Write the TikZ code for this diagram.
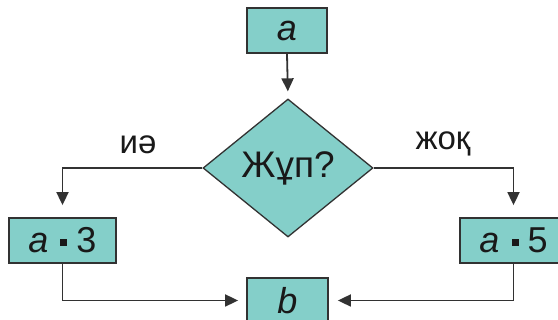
\documentclass[tikz,border=0pt]{standalone}
\usepackage{fontspec}
\setmainfont{Liberation Sans}
\usetikzlibrary{shapes.geometric,arrows.meta}
\definecolor{boxfill}{RGB}{132,207,201}
\definecolor{edge}{RGB}{50,50,50}
\definecolor{ink}{RGB}{25,25,25}
\newcommand{\mdot}{\hspace{12pt}\rule[7pt]{7pt}{7pt}\hspace{9pt}}
\tikzset{
  procbox/.style={draw=edge, line width=1.8pt, fill=boxfill, minimum height=45pt, inner sep=0pt, text=ink, font=\fontsize{36}{36}\selectfont},
  decision/.style={diamond, draw=edge, line width=1.3pt, fill=boxfill, minimum width=170pt, minimum height=138pt, shape aspect=1.232, inner sep=0pt, text=ink, font=\fontsize{37}{37}\selectfont},
  conn/.style={draw=edge, line width=1.8pt, -{Triangle[length=13pt,width=12pt]}},
  branchlabel/.style={text=ink, font=\fontsize{33}{33}\selectfont, inner sep=0pt}
}
\begin{document}
\begin{tikzpicture}[x=1pt,y=-1pt]
\useasboundingbox (0,0) rectangle (558,320);
\clip (0,0) rectangle (558,320);
\fill[white] (0,0) rectangle (558,320);
\node[procbox, minimum width=80pt] (a) at (287,30.5) {\textit{a}};
\node[decision] (q) at (288,168) {Жұп?};
\node[procbox, minimum width=107pt] (a3) at (62.5,240.5) {\textit{a}\mdot 3};
\node[procbox, minimum width=107pt] (a5) at (513.5,240.5) {\textit{a}\mdot 5};
\node[procbox, minimum width=81pt] (b) at (287.5,300.5) {\textit{b}};
\node[branchlabel] (yes) at (138,145) {иә};
\node[branchlabel] (no) at (443,144) {жоқ};
\draw[conn, shorten >=7pt] (a.south) -- (q.north);
\draw[conn, shorten >=12pt] (q.west) -| (a3.north);
\draw[conn, shorten >=12pt] (q.east) -| (a5.north);
\draw[conn, shorten >=8pt] (a3.south) |- (b.west);
\draw[conn, shorten >=9pt] (a5.south) |- (b.east);
\end{tikzpicture}
\end{document}
